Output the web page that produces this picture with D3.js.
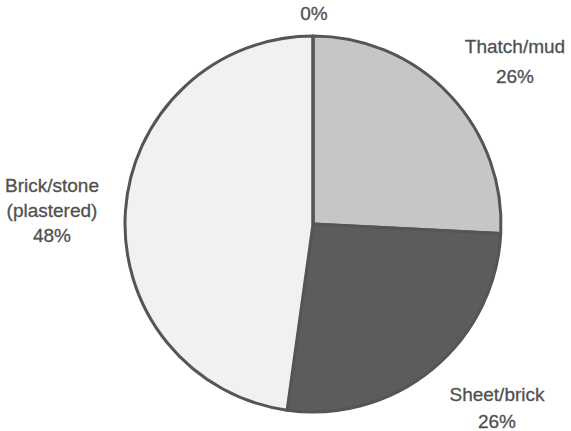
<!DOCTYPE html>
<html>
<head>
<meta charset="utf-8">
<script src="https://cdn.jsdelivr.net/npm/d3@7"></script>
<style>
  html, body { margin: 0; padding: 0; background: #ffffff; }
  svg { display: block; }
</style>
</head>
<body>
<svg id="chart" width="571" height="431"></svg>
<script>
const categories = ["Thatch/mud", "Sheet/brick", "Brick/stone (plastered)", "Other"];
const labelLines = [["Thatch/mud"], ["Sheet/brick"], ["Brick/stone", "(plastered)"], []];
const values = [25.8, 26.4, 47.8, 0];
const sliceColors = ["#c6c6c6", "#5c5c5c", "#f1f1f1", "#e0e0e0"];

const svg = d3.select("#chart");
const cx = 313, cy = 224, r = 188;

const pie = d3.pie().sort(null).value(d => d)(values);
const arc = d3.arc().innerRadius(0).outerRadius(r);

const g = svg.append("g").attr("transform", `translate(${cx},${cy})`);

g.selectAll("path.slice")
  .data(pie)
  .enter().append("path")
  .attr("class", "slice")
  .attr("d", arc)
  .attr("fill", (d, i) => sliceColors[i])
  .attr("stroke", "#555555")
  .attr("stroke-width", 3)
  .attr("stroke-linejoin", "round");

// label anchor positions (layout only)
const labelPos = [
  { x: 515, y: 46, dy: 30 },
  { x: 497, y: 394, dy: 27 },
  { x: 52, y: 185, dy: 25 },
  { x: 314, y: 13, dy: 25 }
];

pie.forEach((d, i) => {
  const lines = labelLines[i].concat([Math.round(values[i]) + "%"]);
  const p = labelPos[i];
  const t = svg.append("text")
    .attr("x", p.x)
    .attr("y", p.y)
    .attr("text-anchor", "middle")
    .attr("dominant-baseline", "central")
    .attr("font-family", "Liberation Sans, Arial, sans-serif")
    .attr("font-size", 19)
    .attr("fill", "#505050")
    .attr("stroke", "#505050")
    .attr("stroke-width", 0.3);
  lines.forEach((ln, k) => {
    t.append("tspan")
      .attr("x", p.x)
      .attr("dy", k === 0 ? 0 : p.dy)
      .text(ln);
  });
});
</script>
</body>
</html>
